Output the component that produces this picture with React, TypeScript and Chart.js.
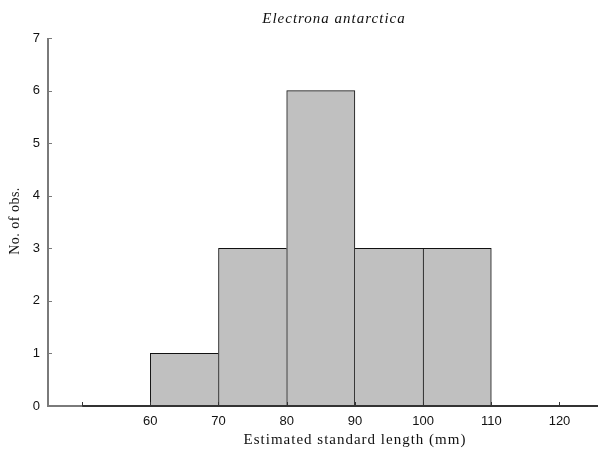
import React, { useEffect, useRef } from "react";
import { Chart, registerables } from "chart.js";

Chart.register(...registerables);

const BIN_STARTS = [60, 70, 80, 90, 100];
const BIN_WIDTH = 10;
const COUNTS = [1, 3, 6, 3, 3];
const X_TICKS = [50, 60, 70, 80, 90, 100, 110, 120];
const X_LABELED = [60, 70, 80, 90, 100, 110, 120];
const Y_TICKS = [0, 1, 2, 3, 4, 5, 6, 7];
const TITLE = "Electrona antarctica";
const X_TITLE = "Estimated standard length (mm)";
const Y_TITLE = "No. of obs.";

const SERIF = "'Liberation Serif', 'Times New Roman', serif";
const SANS = "'Liberation Sans', Arial, sans-serif";

const decor = {
  id: "decor",
  afterDatasetsDraw(chart: any) {
    const { ctx, chartArea, scales } = chart;
    const xs = scales.x;
    const ys = scales.y;
    const L = chartArea.left;
    const B = chartArea.bottom;
    ctx.save();
    // y axis line
    ctx.strokeStyle = "#7a7a7a";
    ctx.lineWidth = 2;
    ctx.beginPath();
    ctx.moveTo(L, chartArea.top);
    ctx.lineTo(L, B + 1);
    ctx.stroke();
    // y ticks (inward)
    ctx.lineWidth = 1;
    for (const v of Y_TICKS) {
      const py = Math.round(ys.getPixelForValue(v)) + 0.5;
      ctx.beginPath();
      ctx.moveTo(L, py);
      ctx.lineTo(L + 4, py);
      ctx.stroke();
    }
    // x axis
    const p50 = xs.getPixelForValue(X_TICKS[0]);
    ctx.lineWidth = 2;
    ctx.strokeStyle = "#7a7a7a";
    ctx.beginPath();
    ctx.moveTo(L, B);
    ctx.lineTo(p50, B);
    ctx.stroke();
    ctx.strokeStyle = "#333333";
    ctx.beginPath();
    ctx.moveTo(p50, B);
    ctx.lineTo(chartArea.right + 2, B);
    ctx.stroke();
    // x ticks (inward)
    ctx.lineWidth = 1;
    ctx.strokeStyle = "#333333";
    for (const v of X_TICKS) {
      const px = Math.round(xs.getPixelForValue(v)) + 0.5;
      ctx.beginPath();
      ctx.moveTo(px, B);
      ctx.lineTo(px, B - 4);
      ctx.stroke();
    }
    ctx.restore();
  },
  afterDraw(chart: any) {
    const { ctx } = chart;
    ctx.save();
    ctx.fillStyle = "#111";
    ctx.textAlign = "center";
    ctx.textBaseline = "middle";
    (ctx as any).letterSpacing = "1px";
    ctx.font = `italic 15px ${SERIF}`;
    ctx.fillText(TITLE, 334, 19);
    ctx.font = `15px ${SERIF}`;
    ctx.fillText(X_TITLE, 355, 440);
    (ctx as any).letterSpacing = "0.5px";
    ctx.font = `14px ${SERIF}`;
    ctx.translate(15, 221);
    ctx.rotate(-Math.PI / 2);
    ctx.fillText(Y_TITLE, 0, 0);
    ctx.restore();
  },
};

export default function App() {
  const ref = useRef<HTMLCanvasElement | null>(null);

  useEffect(() => {
    if (!ref.current) return;
    const n = COUNTS.length;
    const chart = new Chart(ref.current, {
      type: "bar",
      data: {
        datasets: [
          {
            data: BIN_STARTS.map((s, i) => ({ x: s + BIN_WIDTH / 2, y: COUNTS[i] })),
            backgroundColor: "#c0c0c0",
            borderColor: "#111111",
            borderWidth: (c: any) => {
              const i = c.dataIndex;
              const v = COUNTS[i];
              const left = i === 0 || COUNTS[i - 1] <= v ? 1 : 0;
              const right = i === n - 1 || COUNTS[i + 1] < v ? 1 : 0;
              return { top: 1, left, right, bottom: 0 };
            },
            borderSkipped: false,
            barPercentage: 1,
            categoryPercentage: 1,
          } as any,
        ],
      },
      options: {
        animation: false,
        responsive: false,
        maintainAspectRatio: false,
        layout: { padding: { top: 38, right: 1, left: 0, bottom: 0 } },
        plugins: {
          legend: { display: false },
          tooltip: { enabled: false },
          title: { display: false },
        },
        scales: {
          x: {
            type: "linear",
            min: 45,
            max: 125.5,
            offset: false,
            grid: { display: false, drawTicks: false, offset: false },
            border: { display: false },
            afterBuildTicks: (s: any) => {
              s.ticks = X_TICKS.map((v) => ({ value: v }));
            },
            afterFit: (s: any) => {
              s.height = 46;
            },
            ticks: {
              autoSkip: false,
              maxRotation: 0,
              padding: 8,
              color: "#111",
              font: { family: SANS, size: 13 },
              callback: (v: any) => (X_LABELED.includes(Number(v)) ? String(v) : ""),
            },
          } as any,
          y: {
            min: 0,
            max: 7,
            grid: { display: false, drawTicks: false },
            border: { display: false },
            afterBuildTicks: (s: any) => {
              s.ticks = Y_TICKS.map((v) => ({ value: v }));
            },
            afterFit: (s: any) => {
              s.width = 48;
            },
            ticks: {
              padding: 8,
              color: "#111",
              font: { family: SANS, size: 13 },
            },
          } as any,
        },
      },
      plugins: [decor],
    });
    return () => chart.destroy();
  }, []);

  return (
    <div style={{ position: "fixed", left: 0, top: 0, width: 598, height: 452, background: "#fff" }}>
      <canvas ref={ref} width={598} height={452} style={{ display: "block" }} />
    </div>
  );
}
